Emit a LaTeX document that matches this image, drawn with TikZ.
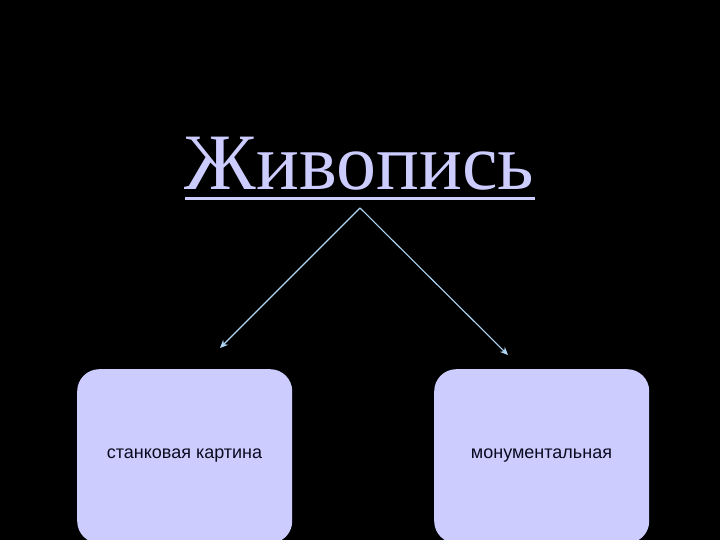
\documentclass[tikz,border=0pt]{standalone}
\usepackage{fontspec}
\setmainfont{Liberation Serif}
\newfontfamily\boxfont{Liberation Sans}
\usetikzlibrary{arrows.meta}
\definecolor{lav}{RGB}{204,204,255}
\definecolor{arrowblue}{RGB}{175,215,245}
\definecolor{boxtext}{RGB}{10,10,30}
\tikzset{
  catbox/.style={draw=none, fill=lav, rounded corners=22pt},
  boxlabel/.style={font=\boxfont\fontsize{18}{20}\selectfont, text=boxtext, inner sep=0pt},
  link/.style={draw=arrowblue, line width=1.1pt, -{Stealth[length=8pt,width=7pt]}}
}
\begin{document}
\begin{tikzpicture}[x=1pt,y=-1pt]
\useasboundingbox (0,0) rectangle (720,540);
\fill[black] (0,0) rectangle (720,540);
\begin{scope}
\clip (0,0) rectangle (720,540);
\node[catbox, minimum width=215pt, minimum height=174pt, anchor=north west, inner sep=0pt] (left) at (77,369) {};
\node[catbox, minimum width=215pt, minimum height=174pt, anchor=north west, inner sep=0pt] (right) at (434,369) {};
\end{scope}
\node[boxlabel] (lt) at (184.5,456) {станковая картина};
\node[boxlabel] (rt) at (541.5,456) {монументальная};
\node[anchor=base, inner sep=0pt, text=lav, font=\fontsize{80}{88}\selectfont] (title) at (359.5,190) {Живопись};
\fill[lav] (185,197) rectangle (535,200.5);
\coordinate (apex) at (360,208);
\coordinate (tipl) at (220,348);
\coordinate (tipr) at (508,355);
\draw[link] (apex) -- (tipl);
\draw[link] (apex) -- (tipr);
\end{tikzpicture}
\end{document}
